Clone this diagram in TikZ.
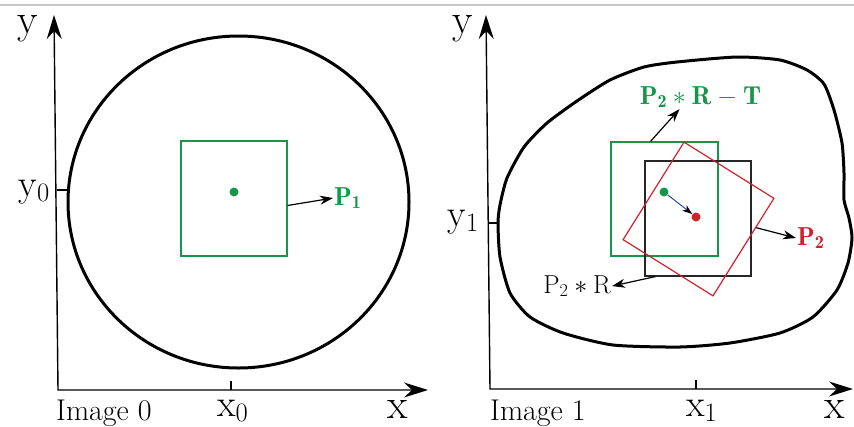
\RequirePackage{fix-cm}
\documentclass[tikz,border=0pt]{standalone}
\usepackage{fontspec}
\usetikzlibrary{arrows.meta,calc}

\definecolor{greenP}{RGB}{22,150,72}
\definecolor{redP}{RGB}{205,35,45}
\definecolor{blueA}{RGB}{45,70,170}

\begin{document}
\begin{tikzpicture}[x=1pt,y=-1pt,>=Stealth]

% --- Styles ---
\tikzset{
    axis/.style={line width=1.4pt, {Stealth[length=24pt,width=15pt,inset=8pt]}-{Stealth[length=24pt,width=15pt,inset=8pt]}},
    tick/.style={line width=1.2pt},
    outline/.style={line width=3pt, black},
    patchG/.style={draw=greenP, line width=1.2pt, rectangle, inner sep=0pt, minimum width=106pt, minimum height=115pt},
    patchK/.style={draw=black!85, line width=1.2pt, rectangle, inner sep=0pt, minimum width=106pt, minimum height=115pt},
    patchR/.style={draw=redP, line width=1.2pt, rectangle, inner sep=0pt, minimum width=106pt, minimum height=115pt, rotate=-32},
    dotG/.style={circle, fill=greenP, inner sep=0pt, minimum size=9pt},
    dotR/.style={circle, fill=redP, inner sep=0pt, minimum size=9pt},
    bigLabel/.style={font=\fontsize{42}{46}\selectfont, inner sep=0pt},
    tickLabel/.style={font=\fontsize{38}{42}\selectfont, inner sep=0pt},
    imgLabel/.style={font=\fontsize{30}{34}\selectfont, inner sep=0pt},
    pLabel/.style={font=\fontsize{26}{30}\selectfont, inner sep=1pt},
    arrow/.style={line width=1.2pt, -{Stealth[length=13pt,width=9pt,inset=4pt]}}
}

\useasboundingbox (0,0) rectangle (854,426);

% top rule
\draw[gray!45, line width=1.2pt] (0,5) -- (854,5);

% ==========================================
% --- Image 0 (links) ---
% ==========================================
\coordinate (o0) at (58,390);
\coordinate (ytop0) at (54,15);
\coordinate (xend0) at (428,390);
\draw[axis] (ytop0) -- (o0) -- (xend0);

\node[bigLabel, anchor=base] (ylab0) at (27.5,33) {y};
\node[bigLabel, anchor=base] (xlab0) at (398,418) {x};
\node[imgLabel, anchor=base west] (img0) at (56,420) {Image 0};

% ticks
\coordinate (ty0) at (57,190);
\coordinate (tx0) at (231,390);
\draw[tick] (ty0) -- ++(10,0);
\draw[tick] (tx0) -- ++(0,-9);
\node[tickLabel, anchor=base east] (y0lab) at (50,196) {$\mathrm{y}_0$};
\node[tickLabel, anchor=base west] (x0lab) at (217,416) {$\mathrm{x}_0$};

% image outline
\draw[outline] (238.5,202) ellipse (170.5pt and 166pt);

% patch P1
\node[patchG] (gsq0) at (234,198.5) {};
\node[dotG] (gdot0) at (234,192) {};
\node[pLabel, text=greenP, anchor=base west] (p1) at (333,205) {$\mathbf{P_1}$};
\draw[arrow] ([yshift=-7pt]gsq0.east) -- (p1.west);

% ==========================================
% --- Image 1 (rechts) ---
% ==========================================
\coordinate (o1) at (490,389);
\coordinate (ytop1) at (486,15);
\coordinate (xend1) at (853,389);
\draw[axis] (ytop1) -- (o1) -- (xend1);

\node[bigLabel, anchor=base] (ylab1) at (463,33) {y};
\node[bigLabel, anchor=base] (xlab1) at (834.5,418) {x};
\node[imgLabel, anchor=base west] (img1) at (490,420) {Image 1};

% ticks
\coordinate (ty1) at (489,223);
\coordinate (tx1) at (696,389);
\draw[tick] (ty1) -- ++(9,0);
\draw[tick] (tx1) -- ++(0,-9);
\node[tickLabel, anchor=base east] (y1lab) at (479,226) {$\mathrm{y}_1$};
\node[tickLabel, anchor=base west] (x1lab) at (686,416) {$\mathrm{x}_1$};

% image outline (vrije vorm)
\draw[outline] plot[smooth cycle, tension=0.4] coordinates {
    (677,62) (737,57) (780,60) (807,70) (824,84) (834,110) (842,143)
    (844,173) (844,200) (849,218) (852,238) (848,263) (837,290)
    (813,317) (780,333) (730,343) (680,347) (613,345) (563,333)
    (530,317) (510,293) (500,257) (498,223) (500,205) (507,178)
    (524,147) (547,123) (577,101) (610,80) (644,67)};

% patches
\node[patchG, minimum width=107pt, minimum height=114pt] (gsq1) at (664.5,199) {};
\node[patchK] (bsq) at (698,218.5) {};
\node[patchR] (rsq) at (698.5,219) {};

\node[dotG] (gdot1) at (664,192) {};
\node[dotR] (rdot) at (696,217) {};
\draw[blueA, line width=1pt, -{Stealth[black,length=10pt,width=7pt,inset=3pt]}] (gdot1) -- (rdot);

% labels
\node[pLabel, text=greenP, anchor=base] (p2rt) at (700.5,104) {$\mathbf{P_2 * R - T}$};
\node[pLabel, text=redP, anchor=base west] (p2) at (796,245) {$\mathbf{P_2}$};
\node[pLabel, anchor=base east] (p2r) at (612,293) {$\mathrm{P}_2 * \mathrm{R}$};

% arrows to labels
\draw[arrow] ([xshift=-14pt]gsq1.north) -- ([xshift=-21pt]p2rt.south);
\draw[arrow] ($(rsq.north east)!0.6!(rsq.east)$) -- (p2.west);
\draw[arrow] ([xshift=11pt]bsq.south west) -- (p2r.east);

\end{tikzpicture}
\end{document}
